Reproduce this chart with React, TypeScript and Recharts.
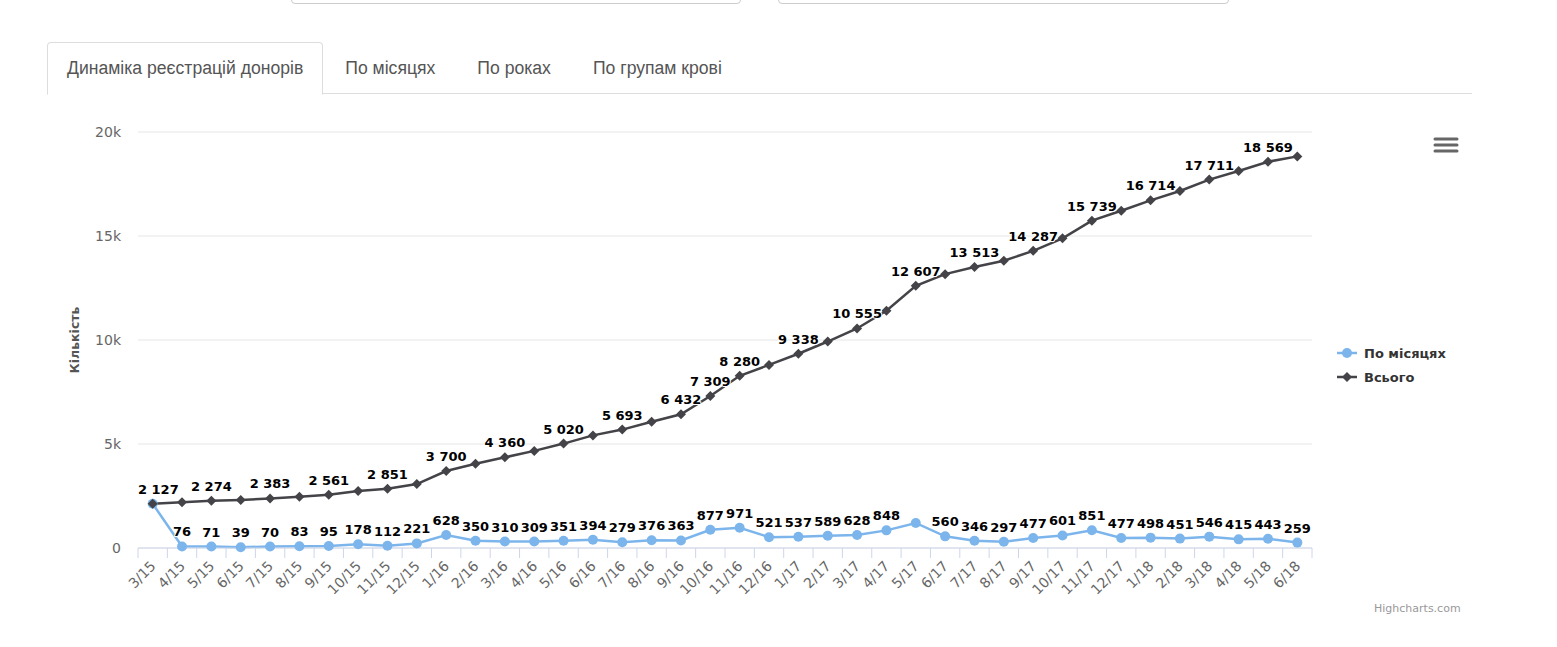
import React from "react"
import { LineChart, Line, XAxis, YAxis, CartesianGrid, LabelList } from "recharts"

const months = [
  "3/15", "4/15", "5/15", "6/15", "7/15", "8/15", "9/15", "10/15", "11/15", "12/15",
  "1/16", "2/16", "3/16", "4/16", "5/16", "6/16", "7/16", "8/16", "9/16", "10/16", "11/16", "12/16",
  "1/17", "2/17", "3/17", "4/17", "5/17", "6/17", "7/17", "8/17", "9/17", "10/17", "11/17", "12/17",
  "1/18", "2/18", "3/18", "4/18", "5/18", "6/18",
]

const perMonth = [
  2127, 76, 71, 39, 70, 83, 95, 178, 112, 221,
  628, 350, 310, 309, 351, 394, 279, 376, 363, 877, 971, 521,
  537, 589, 628, 848, 1204, 560, 346, 297, 477, 601, 851, 477,
  498, 451, 546, 415, 443, 259,
]

const total = [
  2127, 2203, 2274, 2313, 2383, 2466, 2561, 2739, 2851, 3072,
  3700, 4050, 4360, 4669, 5020, 5414, 5693, 6069, 6432, 7309, 8280, 8801,
  9338, 9927, 10555, 11403, 12607, 13167, 13513, 13810, 14287, 14888, 15739, 16216,
  16714, 17165, 17711, 18126, 18569, 18828,
]

const yTicks = [0, 5000, 10000, 15000, 20000]

const tabs = ["Динаміка реєстрацій донорів", "По місяцях", "По роках", "По групам крові"]

const seriesNames = ["По місяцях", "Всього"]

const data = months.map((m, i) => ({ month: m, monthly: perMonth[i], total: total[i] }))

const PLOT_LEFT = 138
const PLOT_RIGHT = 1312
const HALF_BAND = (PLOT_RIGHT - PLOT_LEFT) / months.length / 2

const BLUE = "#7cb5ec"
const DARK = "#434348"
const AXIS = "#ccd6eb"

const fmt = (v: number) => String(v).replace(/\B(?=(\d{3})+(?!\d))/g, " ")

const labelWidth = (s: string) => s.replace(/ /g, "").length * 9.05 + (s.split(" ").length - 1) * 4.5

const makeLabel = (show: (i: number) => boolean) => (props: any) => {
  const { x, y, value, index } = props
  if (!show(index)) return null
  const s = fmt(value)
  const w = labelWidth(s)
  let cx = x
  if (cx - w / 2 < PLOT_LEFT) cx = PLOT_LEFT + w / 2
  if (cx + w / 2 > PLOT_RIGHT) cx = PLOT_RIGHT - w / 2
  return (
    <text
      x={cx}
      y={y - 10}
      textAnchor="middle"
      fontFamily="DejaVu Sans"
      fontWeight="bold"
      fontSize={13}
      fill="#000"
      stroke="#fff"
      strokeWidth={2}
      strokeLinejoin="round"
      paintOrder="stroke"
    >
      {s}
    </text>
  )
}

const monthlyLabel = makeLabel((i) => i !== 0 && i !== 26)
const totalLabel = makeLabel((i) => (i % 2 === 0 && i <= 38) || i === 19)

const Diamond = (props: any) => {
  const { cx, cy } = props
  if (cx == null || cy == null) return null
  const r = 5
  return <polygon points={`${cx},${cy - r} ${cx + r},${cy} ${cx},${cy + r} ${cx - r},${cy}`} fill={DARK} />
}

const XTick = (props: any) => {
  const { x, y, payload, index } = props
  const axisY = y - 8
  return (
    <g>
      <line x1={x - HALF_BAND} x2={x - HALF_BAND} y1={axisY} y2={axisY + 10} stroke={AXIS} strokeWidth={1} />
      {index === months.length - 1 && (
        <line x1={x + HALF_BAND} x2={x + HALF_BAND} y1={axisY} y2={axisY + 10} stroke={AXIS} strokeWidth={1} />
      )}
      <text
        x={x + 4}
        y={axisY + 19}
        textAnchor="end"
        fontFamily="DejaVu Sans"
        fontSize={14}
        fill="#666"
        transform={`rotate(-45 ${x + 4} ${axisY + 19})`}
      >
        {payload.value}
      </text>
    </g>
  )
}

export default function App() {
  return (
    <div style={{ position: "absolute", left: 0, top: 0, width: 1557, height: 647, background: "#fff", overflow: "hidden" }}>
      {/* inputs above the tabs, cut off by the screenshot */}
      <div style={{ position: "absolute", left: 291, top: -40, width: 448, height: 42, border: "1px solid #ccc", borderRadius: 4 }} />
      <div style={{ position: "absolute", left: 778, top: -40, width: 449, height: 42, border: "1px solid #ccc", borderRadius: 4 }} />

      {/* tabs */}
      <div style={{ position: "absolute", left: 47, top: 93, width: 1425, height: 0, borderTop: "1px solid #ddd" }} />
      <div
        style={{
          position: "absolute", left: 47, top: 42, height: 52, display: "flex",
          fontFamily: "Liberation Sans", fontSize: 17.6, color: "#555",
        }}
      >
        {tabs.map((t, i) => (
          <div
            key={t}
            style={{
              padding: "0 19px 0 19px",
              height: 51,
              lineHeight: "51px",
              marginRight: 2,
              border: i === 0 ? "1px solid #ddd" : "1px solid transparent",
              borderBottom: i === 0 ? "1px solid #fff" : "1px solid transparent",
              borderRadius: "4px 4px 0 0",
              background: i === 0 ? "#fff" : "transparent",
              whiteSpace: "nowrap",
            }}
          >
            {t}
          </div>
        ))}
      </div>

      <div style={{ position: "absolute", left: 0, top: 0 }}>
        <LineChart width={1557} height={647} data={data} margin={{ top: 132, right: 245, left: 58, bottom: 0 }}>
          <CartesianGrid horizontal vertical={false} stroke="#e6e6e6" />
          <XAxis
            dataKey="month"
            interval={0}
            height={99}
            padding={{ left: HALF_BAND, right: HALF_BAND }}
            axisLine={{ stroke: AXIS }}
            tickLine={false}
            tick={<XTick />}
          />
          <YAxis
            width={80}
            domain={[0, 20000]}
            ticks={yTicks}
            axisLine={false}
            tickLine={false}
            tickMargin={11}
            tickFormatter={(v: number) => (v === 0 ? "0" : `${v / 1000}k`)}
            tick={{ fill: "#666", fontSize: 14, fontFamily: "DejaVu Sans" }}
            label={{
              value: "Кількість",
              angle: -90,
              position: "insideLeft",
              offset: 17,
              style: { fill: "#555", fontSize: 12.5, fontWeight: "bold", fontFamily: "DejaVu Sans", textAnchor: "middle" },
            }}
          />
          <Line
            dataKey="monthly"
            name={seriesNames[0]}
            stroke={BLUE}
            strokeWidth={2.5}
            dot={{ r: 5, fill: BLUE, stroke: BLUE, strokeWidth: 0 }}
            isAnimationActive={false}
          >
            <LabelList dataKey="monthly" content={monthlyLabel} />
          </Line>
          <Line
            dataKey="total"
            name={seriesNames[1]}
            stroke={DARK}
            strokeWidth={2.5}
            dot={<Diamond />}
            isAnimationActive={false}
          >
            <LabelList dataKey="total" content={totalLabel} />
          </Line>
        </LineChart>
      </div>

      {/* legend */}
      <div style={{ position: "absolute", left: 1337, top: 341, fontFamily: "DejaVu Sans", fontSize: 13, fontWeight: "bold", color: "#333" }}>
        {seriesNames.map((n, i) => (
          <div key={n} style={{ display: "flex", alignItems: "center", height: 24 }}>
            <svg width={20} height={12} style={{ marginRight: 7 }}>
              <line x1={0} x2={20} y1={6} y2={6} stroke={i === 0 ? BLUE : DARK} strokeWidth={2.5} />
              {i === 0 ? (
                <circle cx={10} cy={6} r={5} fill={BLUE} />
              ) : (
                <polygon points="10,1 15,6 10,11 5,6" fill={DARK} />
              )}
            </svg>
            <span>{n}</span>
          </div>
        ))}
      </div>

      {/* context menu button */}
      <svg style={{ position: "absolute", left: 1433, top: 136 }} width={26} height={20}>
        {[3, 9, 15].map((y) => (
          <line key={y} x1={2} x2={24} y1={y} y2={y} stroke="#666" strokeWidth={3} strokeLinecap="round" />
        ))}
      </svg>

      <div style={{ position: "absolute", left: 1374, top: 602, fontFamily: "DejaVu Sans", fontSize: 11, color: "#999" }}>
        Highcharts.com
      </div>
    </div>
  )
}
